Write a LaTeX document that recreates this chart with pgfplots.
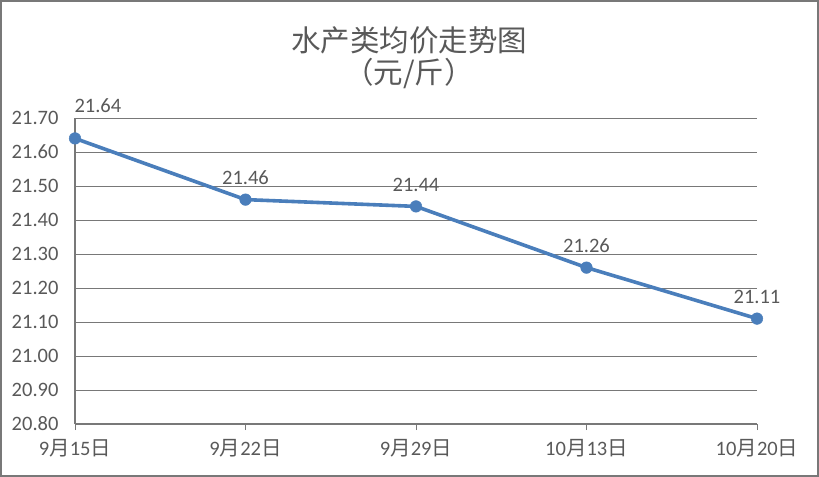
\documentclass[border=0pt]{standalone}
\usepackage{pgfplots}
\pgfplotsset{compat=1.18}
\usepackage{fontspec}
\setmainfont{Carlito}
\newfontfamily\cjk{Noto Sans CJK SC}
\definecolor{lineblue}{RGB}{74,126,187}
\definecolor{txt}{RGB}{89,89,89}
\definecolor{gridc}{RGB}{120,120,120}
\begin{document}
\begin{tikzpicture}
\useasboundingbox (0,0) rectangle (819bp,477bp);
\draw[gridc, line width=2bp] (1bp,1bp) rectangle (818bp,476bp);
\node[txt, font=\cjk\fontsize{29.5bp}{32bp}\selectfont] at (409bp,437bp) {水产类均价走势图};
\node[txt, font=\cjk\fontsize{29.5bp}{32bp}\selectfont] at (409bp,403bp) {（元/斤）};
\begin{axis}[
  at={(75bp,53bp)}, anchor=south west,
  width=682bp, height=306bp, scale only axis,
  xmin=0, xmax=4, ymin=20.8, ymax=21.7,
  xtick={0,1,2,3,4},
  xticklabels={9{\cjk 月}15{\cjk 日},9{\cjk 月}22{\cjk 日},9{\cjk 月}29{\cjk 日},10{\cjk 月}13{\cjk 日},10{\cjk 月}20{\cjk 日}},
  ytick={20.8,20.9,21.0,21.1,21.2,21.3,21.4,21.5,21.6,21.7},
  yticklabel style={xshift=-7bp, /pgf/number format/.cd, fixed, fixed zerofill, precision=2, assume math mode=true},
  ticklabel style={font=\fontsize{20.5bp}{22bp}\selectfont, text=txt},
  ymajorgrids, major grid style={gridc, line width=0.9bp},
  axis line style={gridc, line width=1.2bp},
  axis x line*=bottom, axis y line*=left,
  x axis line style={-}, y axis line style={-},
  xtick style={gridc, line width=1bp},
  ytick style={draw=none},
  major tick length=6bp,
  tick align=outside,
  xticklabel style={yshift=-6bp},
  clip=false,
]
\addplot[lineblue, line width=3.6bp, mark=*, mark size=5.8bp, mark options={fill=lineblue, draw=lineblue, line width=0.5bp},
  nodes near coords, point meta=explicit symbolic,
  every node near coord/.append style={font=\fontsize{20.5bp}{22bp}\selectfont, text=txt, anchor=south, yshift=11bp}]
  coordinates {(0,21.64)[] (1,21.46)[21.46] (2,21.44)[21.44] (3,21.26)[21.26] (4,21.11)[21.11]};
\addplot[draw=none, mark=none,
  nodes near coords, point meta=explicit symbolic,
  every node near coord/.append style={font=\fontsize{20.5bp}{22bp}\selectfont, text=txt, anchor=south west, xshift=-4bp, yshift=22bp}]
  coordinates {(0,21.64)[21.64]};
\end{axis}
\end{tikzpicture}
\end{document}
